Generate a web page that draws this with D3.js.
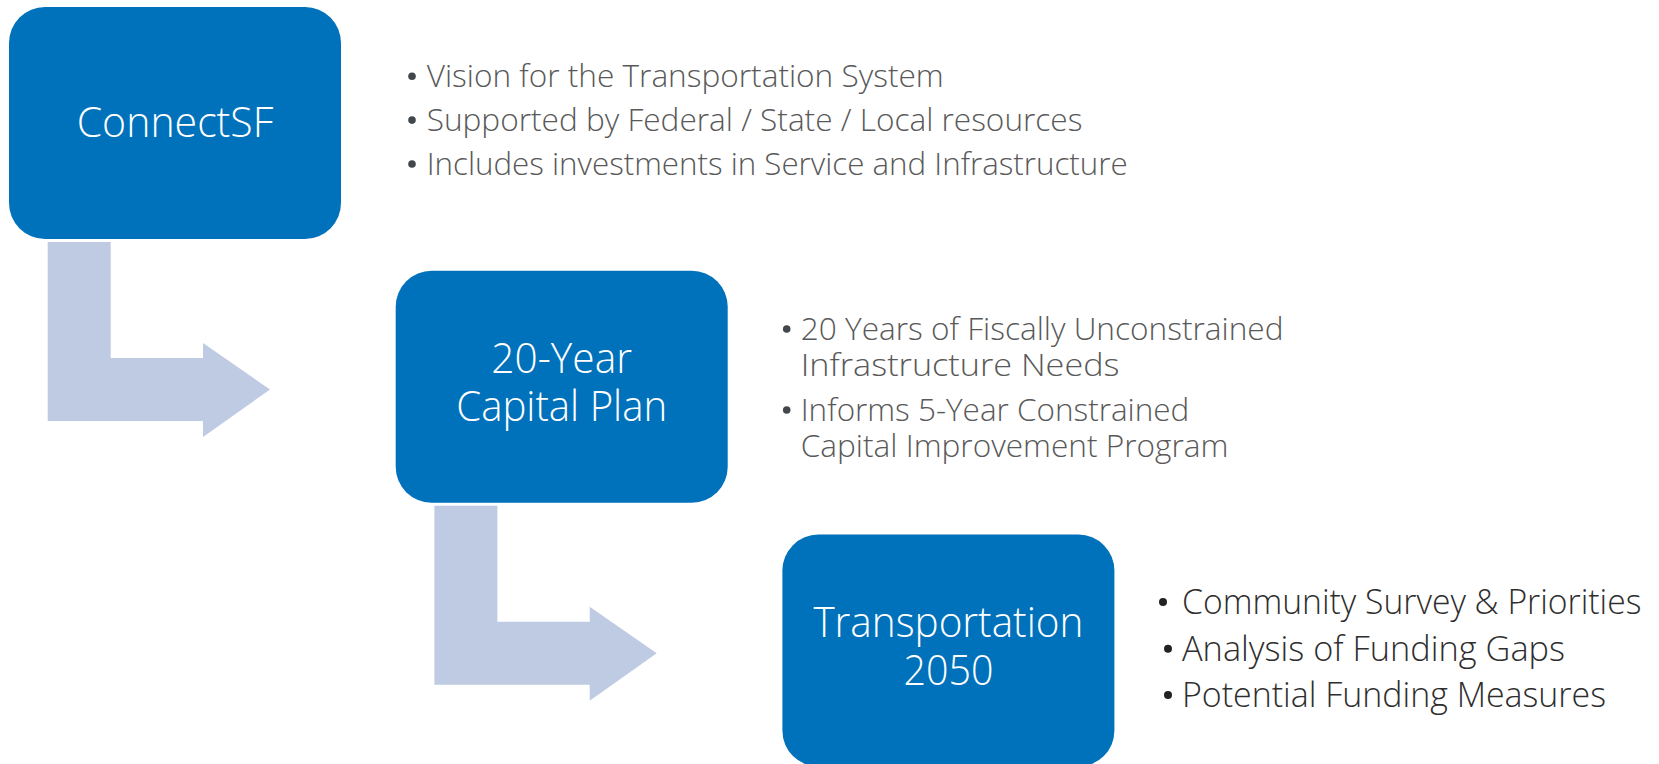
<!DOCTYPE html>
<html><head><meta charset="utf-8">
<script src="https://cdn.jsdelivr.net/npm/d3@7"></script>
<style>html,body{margin:0;padding:0;background:#fff;overflow:hidden}</style>
</head><body>
<svg id="chart" width="1659" height="764"></svg>
<script>
// ---- content ----
const stageNames = ["ConnectSF", "20-Year Capital Plan", "Transportation 2050"];
const stageTitleLines = [["ConnectSF"], ["20-Year", "Capital Plan"], ["Transportation", "2050"]];
const stage1Bullets = [["Vision for the Transportation System"], ["Supported by Federal / State / Local resources"], ["Includes investments in Service and Infrastructure"]];
const stage2Bullets = [["20 Years of Fiscally Unconstrained", "Infrastructure Needs"], ["Informs 5-Year Constrained", "Capital Improvement Program"]];
const stage3Bullets = [["Community Survey & Priorities"], ["Analysis of Funding Gaps"], ["Potential Funding Measures"]];
const stageBullets = [stage1Bullets, stage2Bullets, stage3Bullets];

// ---- layout (positions / sizes / styles) ----
const W = 1659, H = 764;
const boxW = 332, boxH = 232, boxR = 36;
const boxColor = "#0071BB", arrowColor = "#BFCBE2";
const x = d3.scaleLinear().domain([0, 2]).range([9, 782.4]);
const y = d3.scaleLinear().domain([0, 2]).range([7, 534.6]);

// title baselines relative to box top, and fitted widths
const titleBaselines = [[129.7], [102.6, 150], [102.1, 150.4]];
const titleWidths = [[196.7], [140.7, 211], [270, 90]];
const titleFont = 42;

// bullet layout per stage: text x, bullet x per item, baselines per line, widths per line
const bulletLayout = [
  { tx: 426.7, bx: [412, 412, 412], base: [[86.7], [130.6], [174.5]], w: [[517], [655.7], [701]], fs: 32, color: "#595959", dot: "#41474b", r: 3.8, dy: 10.5 },
  { tx: 800.7, bx: [786.7, 786.7], base: [[339.5, 375.5], [420.5, 457]], w: [[482.8, 318.8], [388.6, 427.8]], fs: 32, color: "#595959", dot: "#41474b", r: 3.8, dy: 10.5 },
  { tx: 1182, bx: [1163, 1168, 1168], base: [[614], [660.7], [707]], w: [[459.4], [383], [424]], fs: 35, color: "#2e2e2e", dot: "#222222", r: 4, dy: 12 }
];

// arrow shape relative to the box it leaves
const arrowPts = [[38.7,235],[101.7,235],[101.7,351],[194,351],[194,336],[261,382.5],[194,430],[194,414],[38.7,414]];

const svg = d3.select("#chart");
svg.append("rect").attr("width", W).attr("height", H).attr("fill", "#fff");

// arrows (between consecutive stages)
const arrowData = d3.range(stageNames.length - 1);
svg.selectAll("path.arrow").data(arrowData).enter().append("path")
  .attr("class", "arrow")
  .attr("fill", arrowColor)
  .attr("d", i => d3.line()(arrowPts.map(p => [x(i) + p[0], y(i) + p[1]])) + "Z");

// boxes
const boxes = svg.selectAll("g.stage").data(stageNames).enter().append("g")
  .attr("class", "stage")
  .attr("transform", (d, i) => `translate(${x(i)},${y(i)})`);

boxes.append("rect")
  .attr("width", boxW).attr("height", boxH)
  .attr("rx", boxR).attr("ry", boxR)
  .attr("fill", boxColor);

boxes.each(function(d, i) {
  const g = d3.select(this);
  stageTitleLines[i].forEach((line, j) => {
    g.append("text")
      .attr("x", boxW / 2)
      .attr("y", titleBaselines[i][j])
      .attr("text-anchor", "middle")
      .attr("fill", "#fff")
      .attr("font-family", "'Open Sans', 'Noto Sans', sans-serif")
      .attr("font-weight", 300)
      .attr("font-size", titleFont)
      .attr("textLength", titleWidths[i][j])
      .attr("lengthAdjust", "spacingAndGlyphs")
      .text(line);
  });
});

// bullets
stageBullets.forEach((items, s) => {
  const L = bulletLayout[s];
  const g = svg.append("g").attr("class", "bullets-" + s);
  items.forEach((lines, k) => {
    g.append("circle")
      .attr("cx", L.bx[k])
      .attr("cy", L.base[k][0] - L.dy)
      .attr("r", L.r)
      .attr("fill", L.dot);
    lines.forEach((line, j) => {
      g.append("text")
        .attr("x", L.tx)
        .attr("y", L.base[k][j])
        .attr("fill", L.color)
        .attr("font-family", "'Open Sans', 'Noto Sans', sans-serif")
        .attr("font-weight", 300)
        .attr("font-size", L.fs)
        .attr("textLength", L.w[k][j])
        .attr("lengthAdjust", "spacingAndGlyphs")
        .text(line);
    });
  });
});
</script>
</body></html>
